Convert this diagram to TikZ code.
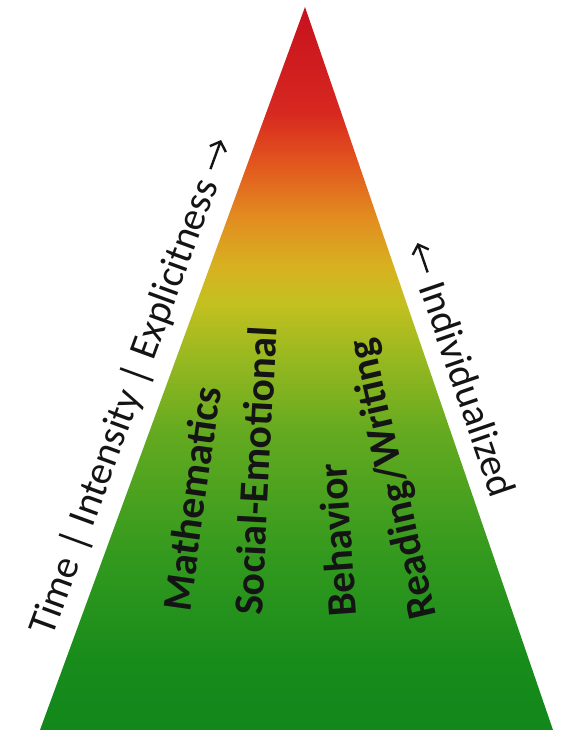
\documentclass[tikz,border=0pt]{standalone}
\usepackage{fontspec}
\setmainfont{Carlito}
\usetikzlibrary{arrows.meta}
\definecolor{g0}{RGB}{18,135,27}
\definecolor{g1}{RGB}{24,140,27}
\definecolor{g2}{RGB}{52,154,30}
\definecolor{g3}{RGB}{100,170,32}
\definecolor{g4}{RGB}{150,184,32}
\definecolor{y1}{RGB}{195,192,32}
\definecolor{y2}{RGB}{215,178,32}
\definecolor{o1}{RGB}{226,142,32}
\definecolor{o2}{RGB}{226,85,30}
\definecolor{r1}{RGB}{215,40,32}
\definecolor{r2}{RGB}{200,20,30}
\definecolor{ink}{RGB}{20,20,20}
\pgfdeclareverticalshading{pyr}{100bp}{color(0bp)=(g0); color(25bp)=(g0); color(29.9bp)=(g1); color(37.3bp)=(g2); color(45.6bp)=(g3); color(50.6bp)=(g4); color(54.5bp)=(y1); color(57bp)=(y2); color(60.3bp)=(o1); color(64.3bp)=(o2); color(67.7bp)=(r1); color(74.1bp)=(r2); color(75bp)=(r2); color(100bp)=(r2)}
\tikzset{
  area/.style={font=\fontsize{41.5}{50}\selectfont\bfseries, text=ink, inner sep=0pt, anchor=base west},
  sidelbl/.style={font=\fontsize{40}{48}\selectfont, text=ink, inner sep=0pt},
  sidearrow/.style={draw=ink, line width=2.4pt, -{Straight Barb[length=8pt,width=17pt]}}
}
\begin{document}
\begin{tikzpicture}[x=1pt,y=1pt]
\useasboundingbox (0,0) rectangle (561,730);
\fill[white] (0,0) rectangle (561,730);
\coordinate (apex) at (305,723);
\coordinate (bl) at (40,0);
\coordinate (br) at (553,0);
\shade[shading=pyr] (bl) -- (apex) -- (br) -- cycle;
% subject labels
\node[area, rotate=82] (math) at (190,117) {Mathematics};
\node[area, rotate=87] (soc) at (262,114) {Social-Emotional};
\node[area, rotate=94] (beh) at (357,114) {Behavior};
\node[area, rotate=103] (read) at (437,114) {Reading/Writing};
% left side label
\begin{scope}[shift={(52.4,91.9)}, rotate=69.87]
  \node[sidelbl, rotate=69.87, anchor=base west] (left) at (0,0) {Time | Intensity | Explicitness};
  \path (left.base east) ++(12,13) coordinate (la1) ++(31,0) coordinate (la2);
  \draw[sidearrow] (la1) -- (la2);
\end{scope}
% right side label
\begin{scope}[shift={(418.9,443.0)}, rotate=-71.07]
  \node[sidelbl, rotate=-71.07, anchor=base west] (right) at (0,0) {Individualized};
  \path (right.base west) ++(-11,13) coordinate (ra1) ++(-31,0) coordinate (ra2);
  \draw[sidearrow] (ra1) -- (ra2);
\end{scope}
\end{tikzpicture}
\end{document}
